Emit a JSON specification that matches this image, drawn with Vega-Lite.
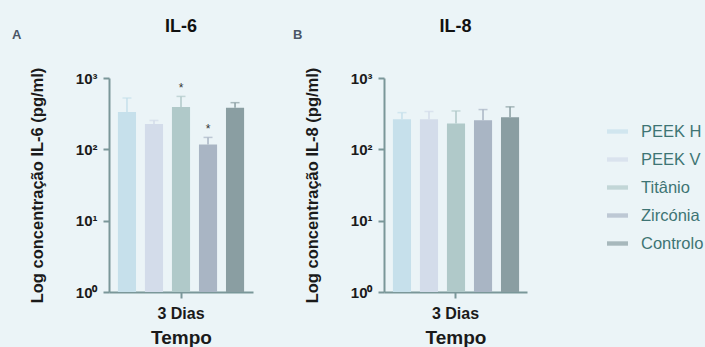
{
  "$schema": "https://vega.github.io/schema/vega-lite/v6.json",
  "background": "#ebf4f7",
  "padding": {"left": 12, "top": 18, "right": 5, "bottom": 0},
  "config": {
    "font": "Liberation Sans",
    "view": {"stroke": null},
    "axis": {"domainColor": "#7a9799", "tickColor": "#7a9799", "domainWidth": 2, "tickWidth": 2, "tickSize": 6, "grid": false, "labelFont": "Liberation Sans", "titleFont": "Liberation Sans", "labelFontWeight": "bold", "titleFontWeight": "bold", "labelColor": "#1a1a1a", "titleColor": "#1a1a1a"},
    "legend": {"title": null, "orient": "none", "legendX": 498, "legendY": 43, "padding": 0, "symbolType": "M-1,-0.21H1V0.21H-1Z", "symbolSize": 441, "labelFontSize": 16.5, "labelColor": "#3e7474", "rowPadding": 9, "symbolStrokeWidth": 0, "labelOffset": 13},
    "concat": {"spacing": 40}
  },
  "datasets": {
    "d": [
      {"panel": "IL-6", "Tempo": "3 Dias", "group": "PEEK H", "value": 333, "err": 524, "star": ""},
      {"panel": "IL-6", "Tempo": "3 Dias", "group": "PEEK V", "value": 226, "err": 254, "star": ""},
      {"panel": "IL-6", "Tempo": "3 Dias", "group": "Titânio", "value": 392, "err": 552, "star": "*"},
      {"panel": "IL-6", "Tempo": "3 Dias", "group": "Zircónia", "value": 117, "err": 147, "star": "*"},
      {"panel": "IL-6", "Tempo": "3 Dias", "group": "Controlo", "value": 383, "err": 451, "star": ""},
      {"panel": "IL-8", "Tempo": "3 Dias", "group": "PEEK H", "value": 264, "err": 327, "star": ""},
      {"panel": "IL-8", "Tempo": "3 Dias", "group": "PEEK V", "value": 264, "err": 339, "star": ""},
      {"panel": "IL-8", "Tempo": "3 Dias", "group": "Titânio", "value": 231, "err": 345, "star": ""},
      {"panel": "IL-8", "Tempo": "3 Dias", "group": "Zircónia", "value": 255, "err": 361, "star": ""},
      {"panel": "IL-8", "Tempo": "3 Dias", "group": "Controlo", "value": 281, "err": 394, "star": ""}
    ]
  },
  "resolve": {"scale": {"color": "shared"}, "legend": {"color": "shared"}},
  "hconcat": [
    {
      "title": {"text": "A", "anchor": "start", "frame": "group", "fontSize": 13, "fontWeight": "bold", "color": "#4a5566", "dx": -97, "dy": 24, "offset": 0},
      "hconcat": [
        {
          "data": {"name": "d"},
          "transform": [{"filter": "datum.panel === 'IL-6'"}],
          "width": 144, "height": 214,
          "title": {"text": "IL-6", "anchor": "middle", "frame": "group", "fontSize": 18, "fontWeight": "bold", "color": "#111111", "offset": 31},
          "encoding": {
            "x": {"field": "Tempo", "type": "nominal", "scale": {"paddingInner": 0, "paddingOuter": 0}, "axis": {"labelAngle": 0, "title": "Tempo", "labelFontSize": 16, "titleFontSize": 19, "labelPadding": 7, "titlePadding": 7}},
            "xOffset": {"field": "group", "type": "nominal", "sort": ["PEEK H", "PEEK V", "Titânio", "Zircónia", "Controlo"], "scale": {"paddingInner": 0.33, "paddingOuter": 0.33}},
            "color": {"field": "group", "type": "nominal", "sort": ["PEEK H", "PEEK V", "Titânio", "Zircónia", "Controlo"], "scale": {"domain": ["PEEK H", "PEEK V", "Titânio", "Zircónia", "Controlo"], "range": ["#c6e0eb", "#d3dcea", "#b0c9c9", "#a9b5c4", "#8a9ea2"]}}
          },
          "layer": [
            {
              "mark": {"type": "bar"},
              "encoding": {
                "y": {"field": "value", "type": "quantitative", "scale": {"type": "log", "domain": [1, 1000]}, "axis": {"values": [1, 10, 100, 1000], "labelExpr": "datum.value == 1 ? '10⁰' : datum.value == 10 ? '10¹' : datum.value == 100 ? '10²' : '10³'", "title": "Log concentração IL-6 (pg/ml)", "labelFontSize": 15, "titleFontSize": 16.5, "labelPadding": 6, "titlePadding": 30}},
                "y2": {"datum": 1}
              }
            },
            {
              "mark": {"type": "rule", "strokeWidth": 1.5},
              "encoding": {
                "y": {"field": "value", "type": "quantitative"},
                "y2": {"field": "err"}
              }
            },
            {
              "mark": {"type": "tick", "size": 9, "thickness": 1.5, "orient": "horizontal"},
              "encoding": {
                "y": {"field": "err", "type": "quantitative"}
              }
            },
            {
              "mark": {"type": "text", "dy": -8, "fontSize": 12, "color": "#333333"},
              "encoding": {
                "y": {"field": "err", "type": "quantitative"},
                "text": {"field": "star"},
                "color": {"value": "#333333"}
              }
            }
          ]
        }
      ]
    },
    {
      "title": {"text": "B", "anchor": "start", "frame": "group", "fontSize": 13, "fontWeight": "bold", "color": "#4a5566", "dx": -91, "dy": 24, "offset": 0},
      "hconcat": [
        {
          "data": {"name": "d"},
          "transform": [{"filter": "datum.panel === 'IL-8'"}],
          "width": 143, "height": 214,
          "title": {"text": "IL-8", "anchor": "middle", "frame": "group", "fontSize": 18, "fontWeight": "bold", "color": "#111111", "offset": 31},
          "encoding": {
            "x": {"field": "Tempo", "type": "nominal", "scale": {"paddingInner": 0, "paddingOuter": 0}, "axis": {"labelAngle": 0, "title": "Tempo", "labelFontSize": 16, "titleFontSize": 19, "labelPadding": 7, "titlePadding": 7}},
            "xOffset": {"field": "group", "type": "nominal", "sort": ["PEEK H", "PEEK V", "Titânio", "Zircónia", "Controlo"], "scale": {"paddingInner": 0.33, "paddingOuter": 0.33}},
            "color": {"field": "group", "type": "nominal", "sort": ["PEEK H", "PEEK V", "Titânio", "Zircónia", "Controlo"], "scale": {"domain": ["PEEK H", "PEEK V", "Titânio", "Zircónia", "Controlo"], "range": ["#c6e0eb", "#d3dcea", "#b0c9c9", "#a9b5c4", "#8a9ea2"]}}
          },
          "layer": [
            {
              "mark": {"type": "bar"},
              "encoding": {
                "y": {"field": "value", "type": "quantitative", "scale": {"type": "log", "domain": [1, 1000]}, "axis": {"values": [1, 10, 100, 1000], "labelExpr": "datum.value == 1 ? '10⁰' : datum.value == 10 ? '10¹' : datum.value == 100 ? '10²' : '10³'", "title": "Log concentração IL-8 (pg/ml)", "labelFontSize": 15, "titleFontSize": 16.5, "labelPadding": 6, "titlePadding": 30}},
                "y2": {"datum": 1}
              }
            },
            {
              "mark": {"type": "rule", "strokeWidth": 1.5},
              "encoding": {
                "y": {"field": "value", "type": "quantitative"},
                "y2": {"field": "err"}
              }
            },
            {
              "mark": {"type": "tick", "size": 9, "thickness": 1.5, "orient": "horizontal"},
              "encoding": {
                "y": {"field": "err", "type": "quantitative"}
              }
            }
          ]
        }
      ]
    }
  ]
}
